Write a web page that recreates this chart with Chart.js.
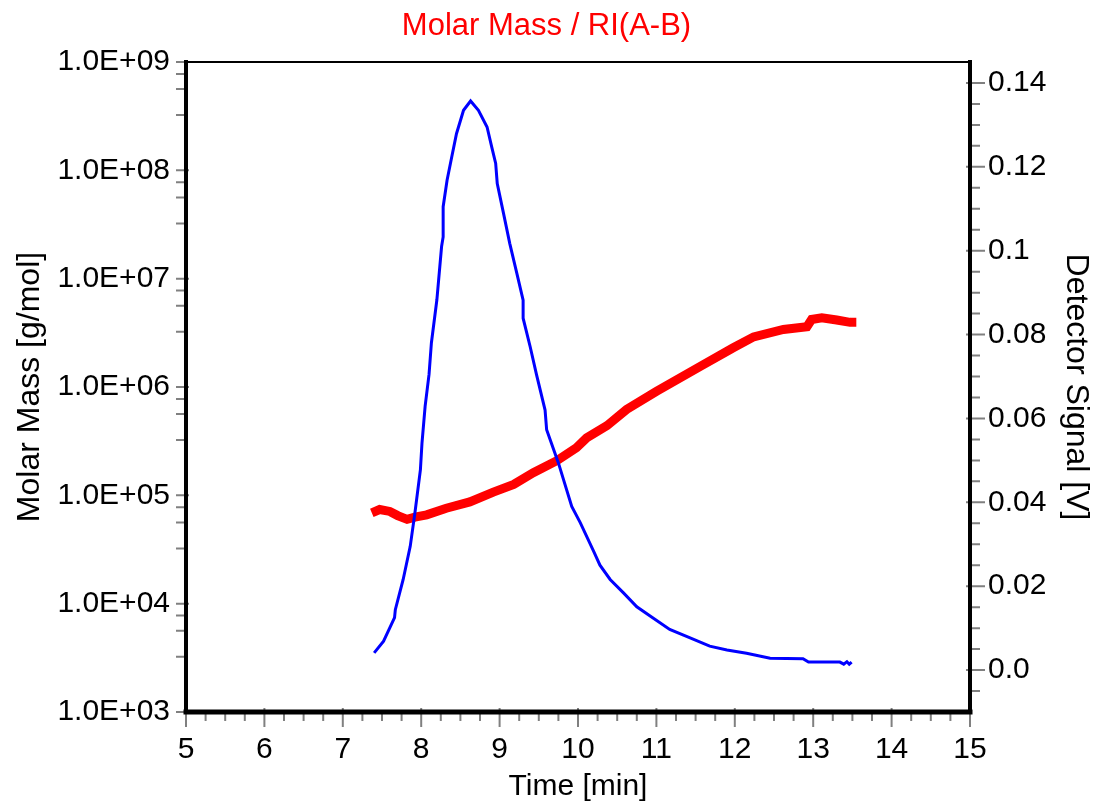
<!DOCTYPE html>
<html>
<head>
<meta charset="utf-8">
<title>Molar Mass / RI(A-B)</title>
<script src="https://cdn.jsdelivr.net/npm/chart.js@4/dist/chart.umd.min.js"></script>
<style>
    html, body { margin: 0; padding: 0; background: #fff; }
    #wrap { width: 1093px; height: 802px; }
</style>
</head>
<body>
<div id="wrap"><canvas id="massChart" width="1093" height="802"></canvas></div>
<script>
// molar mass trace (left, log axis)
const massTime = [7.37, 7.47, 7.60, 7.70, 7.82, 7.92, 8.07, 8.32, 8.62, 8.92, 9.18, 9.43, 9.73, 9.98,
    10.11, 10.37, 10.62, 11.00, 11.56, 11.98, 12.24, 12.62, 12.92, 12.98, 13.11, 13.30, 13.47, 13.55];
const molarMass = [6.9e4, 7.4e4, 7.1e4, 6.5e4, 6.0e4, 6.3e4, 6.6e4, 7.6e4, 8.7e4, 1.07e5, 1.26e5, 1.62e5, 2.09e5, 2.75e5,
    3.39e5, 4.4e5, 6.2e5, 9.1e5, 1.55e6, 2.3e6, 2.9e6, 3.4e6, 3.6e6, 4.2e6, 4.35e6, 4.15e6, 3.95e6, 3.95e6];

// RI detector trace (right axis)
const riTime = [7.40, 7.52, 7.66, 7.67, 7.77, 7.86, 7.92, 7.99, 8.01, 8.05, 8.10, 8.13, 8.20, 8.26, 8.28, 8.28,
    8.33, 8.39, 8.45, 8.54, 8.63, 8.73, 8.84, 8.90, 8.95, 8.97, 9.05, 9.13, 9.22, 9.30, 9.30, 9.39, 9.47,
    9.58, 9.60, 9.75, 9.92, 10.03, 10.20, 10.28, 10.41, 10.58, 10.75, 10.92, 11.17, 11.43, 11.68, 11.90,
    12.15, 12.45, 12.87, 12.94, 13.34, 13.39, 13.43, 13.46, 13.49];
const riSignal = [0.0041, 0.0069, 0.0125, 0.0144, 0.0216, 0.0295, 0.0375, 0.0478, 0.0541, 0.0629, 0.0705, 0.078,
    0.0883, 0.101, 0.1033, 0.1105, 0.1168, 0.1224, 0.1279, 0.1335, 0.1357, 0.1335, 0.1295, 0.1247, 0.1208,
    0.116, 0.1089, 0.1017, 0.0946, 0.0882, 0.0839, 0.0771, 0.0705, 0.062, 0.0573, 0.0494, 0.039, 0.0351,
    0.0283, 0.025, 0.0216, 0.0184, 0.0151, 0.0129, 0.0097, 0.0077, 0.0057, 0.0048, 0.004, 0.0028, 0.0027,
    0.0019, 0.0019, 0.0014, 0.002, 0.0014, 0.0019];

// tick labels
const timeTicks = [5, 6, 7, 8, 9, 10, 11, 12, 13, 14, 15];
const massTicks = [1e3, 1e4, 1e5, 1e6, 1e7, 1e8, 1e9];
const signalTicks = [0, 0.02, 0.04, 0.06, 0.08, 0.1, 0.12, 0.14];

const FONT = "'Liberation Sans', Arial, sans-serif";

function sciLabel(v) {
    const e = Math.round(Math.log10(v));
    return '1.0E+' + String(e).padStart(2, '0');
}

function toPoints(xs, ys) {
    return xs.map((x, i) => ({ x: x, y: ys[i] }));
}

// frame and tick marks in the instrument-software style
const framePlugin = {
    id: 'frame',
    afterDraw(chart) {
        const ctx = chart.ctx;
        const a = chart.chartArea;
        const sx = chart.scales.x, sy = chart.scales.y, sr = chart.scales.y1;
        ctx.save();
        ctx.strokeStyle = '#808080';
        ctx.lineWidth = 2;
        ctx.beginPath();
        // x ticks
        timeTicks.forEach(t => {
            const px = sx.getPixelForValue(t);
            ctx.moveTo(px, a.bottom - 4); ctx.lineTo(px, a.bottom + 15);
            if (t < 15) {
                [0.25, 0.5, 0.75].forEach(f => {
                    const mx = sx.getPixelForValue(t + f);
                    ctx.moveTo(mx, a.bottom); ctx.lineTo(mx, a.bottom + 9);
                });
            }
        });
        // left log ticks
        massTicks.forEach(v => {
            const py = sy.getPixelForValue(v);
            ctx.moveTo(a.left - 10, py); ctx.lineTo(a.left + 3, py);
            if (v > 1e3) {
                [0.11, 0.25, 0.49].forEach(f => {
                    const my = sy.getPixelForValue(v * Math.pow(10, -f));
                    ctx.moveTo(a.left - 10, my); ctx.lineTo(a.left, my);
                });
            }
        });
        // right ticks
        signalTicks.forEach(v => {
            const py = sr.getPixelForValue(v);
            ctx.moveTo(a.right - 4, py); ctx.lineTo(a.right + 15, py);
        });
        for (let k = -1; k <= 27; k++) {
            const v = k * 0.005;
            if (k % 4 === 0) continue;
            const my = sr.getPixelForValue(v);
            ctx.moveTo(a.right, my); ctx.lineTo(a.right + 10, my);
        }
        ctx.stroke();

        ctx.strokeStyle = '#000';
        ctx.lineCap = 'square';
        ctx.lineWidth = 2;
        ctx.beginPath();
        ctx.moveTo(a.left, a.top); ctx.lineTo(a.right, a.top);
        ctx.stroke();
        ctx.lineWidth = 4;
        ctx.beginPath();
        ctx.moveTo(a.left, a.top); ctx.lineTo(a.left, a.bottom);
        ctx.moveTo(a.right, a.top); ctx.lineTo(a.right, a.bottom);
        ctx.stroke();
        ctx.lineWidth = 5;
        ctx.beginPath();
        ctx.moveTo(a.left, a.bottom); ctx.lineTo(a.right, a.bottom);
        ctx.stroke();
        ctx.restore();
    }
};

const ctx = document.getElementById('massChart').getContext('2d');
new Chart(ctx, {
    type: 'line',
    data: {
        datasets: [{
            label: 'Molar Mass',
            data: toPoints(massTime, molarMass),
            yAxisID: 'y',
            borderColor: '#ff0000',
            borderWidth: 9,
            pointRadius: 0,
            tension: 0,
            order: 1
        }, {
            label: 'RI(A-B)',
            data: toPoints(riTime, riSignal),
            yAxisID: 'y1',
            borderColor: '#0000ff',
            borderWidth: 3,
            pointRadius: 0,
            tension: 0,
            order: 0
        }]
    },
    options: {
        responsive: false,
        animation: false,
        layout: { padding: 0 },
        plugins: {
            legend: { display: false },
            tooltip: { enabled: false },
            title: {
                display: true,
                text: 'Molar Mass / RI(A-B)',
                color: '#ff0000',
                font: { family: FONT, size: 31, weight: 'normal', lineHeight: 1.2 },
                padding: { top: 8, bottom: 16.8 }
            }
        },
        scales: {
            x: {
                type: 'linear',
                min: 5,
                max: 15,
                afterBuildTicks: s => { s.ticks = timeTicks.map(v => ({ value: v })); },
                afterFit: s => { s.height = 90; },
                grid: { display: false, drawTicks: false },
                border: { display: false },
                ticks: {
                    padding: 20,
                    color: '#000',
                    font: { family: FONT, size: 30 }
                },
                title: {
                    display: true,
                    text: 'Time [min]',
                    color: '#000',
                    font: { family: FONT, size: 30, lineHeight: 1 },
                    padding: 0
                }
            },
            y: {
                type: 'logarithmic',
                position: 'left',
                min: 1e3,
                max: 1e9,
                afterBuildTicks: s => { s.ticks = massTicks.map(v => ({ value: v })); },
                afterFit: s => { s.width = 186; },
                grid: { display: false, drawTicks: false },
                border: { display: false },
                ticks: {
                    padding: 16,
                    color: '#000',
                    font: { family: FONT, size: 30 },
                    callback: v => sciLabel(v)
                },
                title: {
                    display: true,
                    text: 'Molar Mass [g/mol]',
                    color: '#000',
                    font: { family: FONT, size: 32, lineHeight: 1.2 },
                    padding: { top: 11, bottom: 0 }
                }
            },
            y1: {
                type: 'linear',
                position: 'right',
                min: -0.01,
                max: 0.145,
                afterBuildTicks: s => { s.ticks = signalTicks.map(v => ({ value: v })); },
                afterFit: s => { s.width = 123; },
                grid: { display: false, drawTicks: false },
                border: { display: false },
                ticks: {
                    padding: 18,
                    color: '#000',
                    font: { family: FONT, size: 30 },
                    callback: v => (v === 0 ? '0.0' : String(+v.toFixed(2)))
                },
                title: {
                    display: true,
                    text: 'Detector Signal [V]',
                    color: '#000',
                    font: { family: FONT, size: 32, lineHeight: 1 },
                    padding: { top: 1, bottom: 0 }
                }
            }
        }
    },
    plugins: [framePlugin]
});
</script>
</body>
</html>
